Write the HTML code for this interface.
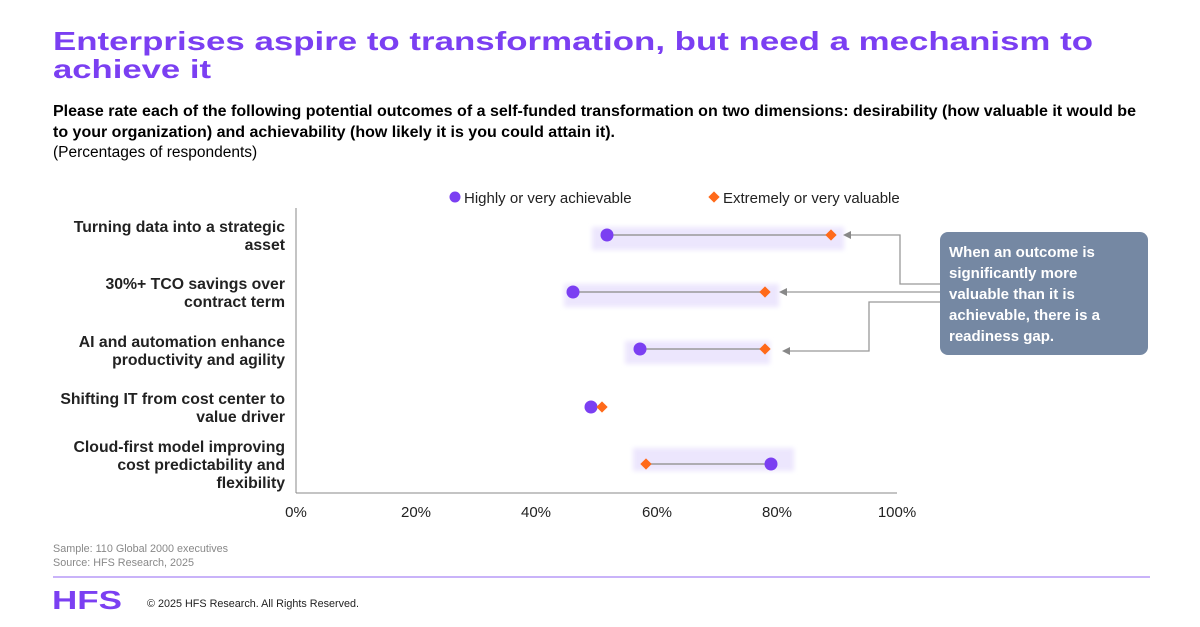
<!DOCTYPE html>
<html><head><meta charset="utf-8"><style>
html,body{margin:0;padding:0;background:#fff;}
body{width:1200px;height:627px;overflow:hidden;position:relative;font-family:"Liberation Sans",Arial,sans-serif;}
svg{position:absolute;left:0;top:0;}
</style></head><body>
<svg width="1200" height="627" viewBox="0 0 1200 627" font-family="Liberation Sans, Arial, sans-serif">
<defs><filter id="b" x="-10%" y="-50%" width="120%" height="200%"><feGaussianBlur stdDeviation="2.5"/></filter></defs>
<text x="53" y="50" font-size="26" font-weight="bold" fill="#7b3ff2" textLength="1040" lengthAdjust="spacingAndGlyphs">Enterprises aspire to transformation, but need a mechanism to</text>
<text x="53" y="78" font-size="26" font-weight="bold" fill="#7b3ff2" textLength="158" lengthAdjust="spacingAndGlyphs">achieve it</text>
<text x="53" y="116" font-size="15.5" font-weight="bold" fill="#000" textLength="1083" lengthAdjust="spacingAndGlyphs">Please rate each of the following potential outcomes of a self-funded transformation on two dimensions: desirability (how valuable it would be</text>
<text x="53" y="137" font-size="15.5" font-weight="bold" fill="#000" textLength="562" lengthAdjust="spacingAndGlyphs">to your organization) and achievability (how likely it is you could attain it).</text>
<text x="53" y="157" font-size="15.5" fill="#000">(Percentages of respondents)</text>

<circle cx="455" cy="197" r="5.5" fill="#7b3ff2"/>
<text x="464" y="203" font-size="15" fill="#222">Highly or very achievable</text>
<rect x="710" y="193" width="8" height="8" fill="#ff6a1a" transform="rotate(45 714 197)"/>
<text x="723" y="203" font-size="15" fill="#222">Extremely or very valuable</text>

<g font-size="15.8" font-weight="bold" fill="#222" text-anchor="end">
<text x="285" y="232">Turning data into a strategic</text><text x="285" y="250">asset</text>
<text x="285" y="289">30%+ TCO savings over</text><text x="285" y="307">contract term</text>
<text x="285" y="347">AI and automation enhance</text><text x="285" y="365">productivity and agility</text>
<text x="285" y="404">Shifting IT from cost center to</text><text x="285" y="422">value driver</text>
<text x="285" y="452">Cloud-first model improving</text><text x="285" y="470">cost predictability and</text><text x="285" y="488">flexibility</text>
</g>
<line x1="296" y1="208" x2="296" y2="493" stroke="#888" stroke-width="1"/>
<line x1="296" y1="493" x2="897" y2="493" stroke="#888" stroke-width="1"/>
<g font-size="15" fill="#222" text-anchor="middle">
<text x="296" y="517">0%</text><text x="416" y="517">20%</text><text x="536" y="517">40%</text><text x="657" y="517">60%</text><text x="777" y="517">80%</text><text x="897" y="517">100%</text>
</g>
<g fill="#ece6fd" filter="url(#b)">
<rect x="592" y="227" width="252" height="23"/>
<rect x="564" y="284" width="215" height="23"/>
<rect x="625" y="341" width="145" height="23"/>
<rect x="633" y="448" width="161" height="23"/>
</g>
<g stroke="#999" stroke-width="1.5">
<line x1="607" y1="235" x2="831" y2="235"/>
<line x1="573" y1="292" x2="765" y2="292"/>
<line x1="640" y1="349" x2="765" y2="349"/>
<line x1="646" y1="464" x2="771" y2="464"/>
</g>
<g fill="#7b3ff2">
<circle cx="607" cy="235" r="6.5"/><circle cx="573" cy="292" r="6.5"/><circle cx="640" cy="349" r="6.5"/><circle cx="591" cy="407" r="6.5"/><circle cx="771" cy="464" r="6.5"/>
</g>
<g fill="#ff6a1a">
<rect x="827" y="231" width="8" height="8" transform="rotate(45 831 235)"/>
<rect x="761" y="288" width="8" height="8" transform="rotate(45 765 292)"/>
<rect x="761" y="345" width="8" height="8" transform="rotate(45 765 349)"/>
<rect x="598" y="403" width="8" height="8" transform="rotate(45 602 407)"/>
<rect x="642" y="460" width="8" height="8" transform="rotate(45 646 464)"/>
</g>
<g stroke="#999" stroke-width="1.3" fill="none">
<polyline points="940,284 900,284 900,235 850,235"/>
<polyline points="940,292 785,292"/>
<polyline points="940,302 869,302 869,351 787,351"/>
</g>
<g fill="#888">
<polygon points="843,235 851,231 851,239"/>
<polygon points="779,292 787,288 787,296"/>
<polygon points="782,351 790,347 790,355"/>
</g>
<rect x="940" y="232" width="208" height="123" rx="8" fill="#7588a3"/>
<g font-size="15" font-weight="bold" fill="#fff">
<text x="949" y="257">When an outcome is</text>
<text x="949" y="278">significantly more</text>
<text x="949" y="299">valuable than it is</text>
<text x="949" y="320">achievable, there is a</text>
<text x="949" y="341">readiness gap.</text>
</g>
<text x="53" y="552" font-size="10.8" fill="#888">Sample: 110 Global 2000 executives</text>
<text x="53" y="566" font-size="10.8" fill="#888">Source: HFS Research, 2025</text>
<line x1="53" y1="577" x2="1150" y2="577" stroke="#b79af7" stroke-width="1.5"/>
<text x="52" y="609" font-size="26" font-weight="bold" fill="#7b3ff2" textLength="70" lengthAdjust="spacingAndGlyphs">HFS</text>
<text x="147" y="607" font-size="10.8" fill="#222">© 2025 HFS Research. All Rights Reserved.</text>
</svg>
</body></html>
